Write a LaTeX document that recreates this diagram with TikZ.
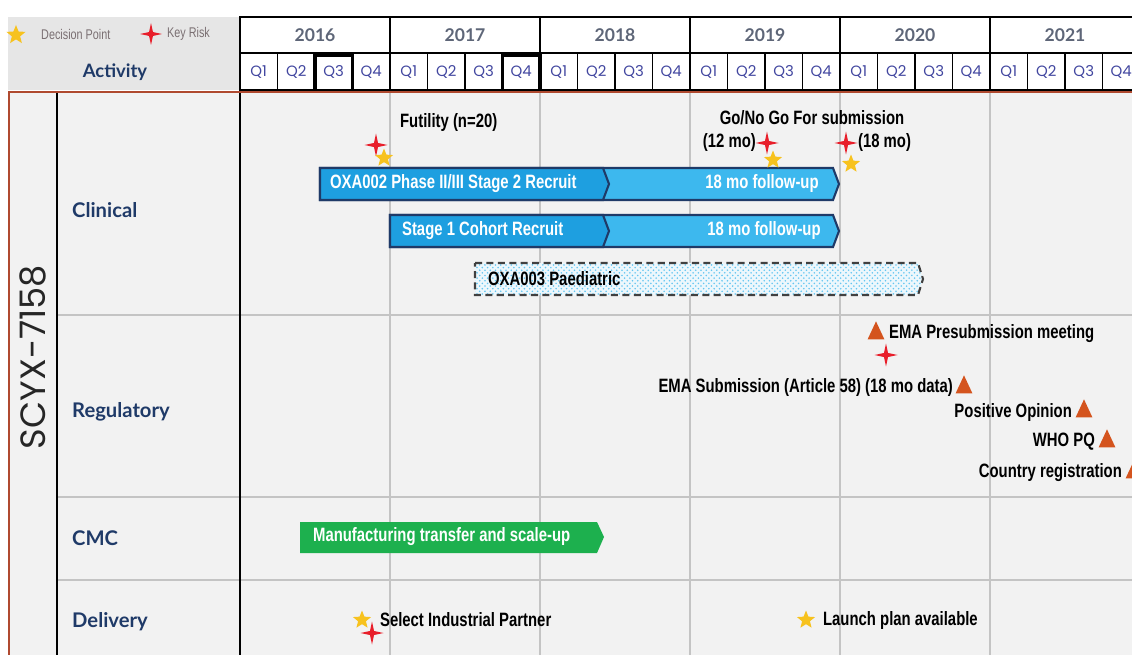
\documentclass[tikz,border=0pt]{standalone}
\usepackage{fontspec}
\setmainfont[FakeStretch=0.77]{Liberation Sans}
\newfontfamily\titre{Poppins}
\newfontfamily\rubrique{Lato}
\usetikzlibrary{shapes.geometric,patterns}
\definecolor{marine}{HTML}{1F3A68}
\definecolor{bleu}{HTML}{1E9FE0}
\definecolor{bleuclair}{HTML}{3DB8EE}
\definecolor{vert}{HTML}{1DB04E}
\definecolor{or}{HTML}{F7C21E}
\definecolor{rouge}{HTML}{E81E2A}
\definecolor{brique}{HTML}{D4541E}
\definecolor{fond}{HTML}{F2F2F2}
\definecolor{entete}{HTML}{E6E6E6}
\definecolor{grille}{HTML}{C4C4C4}
\definecolor{bordeaux}{HTML}{B04A30}
\definecolor{ardoise}{HTML}{5E6678}
\definecolor{legende}{HTML}{7A6F72}

\begin{document}
\begin{tikzpicture}[x=0.02cm,y=-0.02cm]
\tikzset{etoile/.style={star, star points=5, star point ratio=2.3, fill=or, inner sep=0, minimum size=0.38cm},
  croix/.style={star, star points=4, star point ratio=4, fill=rouge, inner sep=0, minimum size=0.46cm},
  tri/.style={isosceles triangle, isosceles triangle apex angle=50, shape border rotate=90, fill=brique, inner sep=0, minimum height=0.36cm},
  txt/.style={font=\fontsize{11}{13}\selectfont\bfseries, inner sep=1pt},
  blanc/.style={txt, text=white},
  etiq/.style={font=\rubrique\fontsize{11.5}{13}\selectfont\bfseries, text=marine, anchor=west},
  annee/.style={font=\rubrique\fontsize{10}{12}\selectfont\bfseries, text=ardoise},
  trim/.style={font=\titre\fontsize{8.5}{10}\selectfont, text=ardoise!70!blue}}
\useasboundingbox (0,0) rectangle (1132,655);
\clip (0,0) rectangle (1132,655);
\fill[white] (0,0) rectangle (1132,655);
\fill[entete] (8,17) rectangle (240,90);
\fill[fond] (9,92) rectangle (1132,655);
% legend
\node[etoile, minimum size=0.4cm] (lg1) at (16,35) {};
\node[font=\fontsize{8}{9}\selectfont, text=legende, anchor=west] (lg1t) at (35,34) {Decision Point};
\node[croix, minimum size=0.44cm] (lg2) at (151,34) {};
\node[font=\fontsize{8}{9}\selectfont, text=legende, anchor=west] (lg2t) at (161,34) {Key Risk};
\node[font=\rubrique\fontsize{10.5}{12}\selectfont\bfseries, text=marine] (act) at (115,72) {Activity};
% years and quarters
\foreach \a [count=\i from 0] in {2016,...,2021} {
  \draw[fill=white, line width=1.1pt] (240+150*\i,17) rectangle ++(150,36);
  \node[annee] (a\a) at (315+150*\i,35) {\a};
}
\foreach \q in {0,...,23} {
  \pgfmathtruncatemacro\n{mod(\q,4)+1}
  \draw[fill=white, line width=1.1pt] (240+37.5*\q,53) rectangle ++(37.5,37);
  \node[trim] (q\q) at (258.75+37.5*\q,72) {Q\n};
}
\draw[line width=1.8pt] (315,55) rectangle (352.5,91);
\draw[line width=1.8pt] (502.5,55) rectangle (540,91);
% grid
\draw[grille, line width=0.6pt] foreach \x in {390,540,...,990} {(\x,92) -- (\x,655)};
\draw[grille, line width=1.2pt] (57,315) -- (1132,315) (57,497) -- (1132,497) (57,580) -- (1132,580);
\draw[line width=0.9pt] (57,92) -- (57,655) (240,17) -- (240,655);
\draw[bordeaux, line width=1.6pt] (9,655) -- (9,92) -- (1132,92);
% rows
\node[font=\titre\fontsize{20}{24}\selectfont, rotate=90, text=black!85] (prod) at (33,357) {SCYX-7158};
\node[etiq] (clin) at (66,210) {Clinical};
\node[etiq] (regl) at (66,412) {Regulatory};
\node[etiq] (cmc) at (66,538) {CMC};
\node[etiq] (deli) at (66,622) {Delivery};
% clinical
\draw[fill=bleuclair, draw=marine, line width=1.2pt] (320,168) -- (833,168) -- (839,184) -- (833,200) -- (320,200) -- cycle;
\draw[fill=bleu, draw=marine, line width=1.2pt] (320,168) -- (603,168) -- (609,184) -- (603,200) -- (320,200) -- cycle;
\node[blanc, anchor=west] (ph2) at (328,184) {OXA002 Phase II/III  Stage 2 Recruit};
\node[blanc] (fu2) at (762,184) {18 mo follow-up};
\draw[fill=bleuclair, draw=marine, line width=1.2pt] (390,215) -- (833,215) -- (839,231) -- (833,247) -- (390,247) -- cycle;
\draw[fill=bleu, draw=marine, line width=1.2pt] (390,215) -- (603,215) -- (609,231) -- (603,247) -- (390,247) -- cycle;
\node[blanc, anchor=west] (st1) at (400,231) {Stage 1 Cohort Recruit};
\node[blanc] (fu1) at (764,231) {18 mo follow-up};
\fill[bleu!8] (475,263) -- (918,263) -- (923,279) -- (918,295) -- (475,295) -- cycle;
\fill[pattern=crosshatch dots, pattern color=bleuclair!80] (475,263) -- (918,263) -- (923,279) -- (918,295) -- (475,295) -- cycle;
\draw[black!75, line width=1.2pt, dash pattern=on 4pt off 2.5pt] (475,263) -- (918,263) -- (923,279) -- (918,295) -- (475,295) -- cycle;
\node[txt, anchor=west] (ped) at (486,279) {OXA003 Paediatric};
\node[croix] (r1) at (376,145) {};
\node[etoile] (d1) at (384,158) {};
\node[txt, anchor=west] (fut) at (398,123) {Futility (n=20)};
\node[txt] (gng) at (812,118) {Go/No Go For submission};
\node[croix] (r2) at (767,143) {};
\node[etoile] (d2) at (773,160) {};
\node[txt, anchor=east] (m12) at (758,143) {(12 mo)};
\node[croix] (r3) at (846,143) {};
\node[etoile] (d3) at (851,164) {};
\node[txt, anchor=west] (m18) at (856,143) {(18 mo)};
% regulatory
\node[tri] (t1) at (876,334) {};
\node[croix] (r4) at (886,355) {};
\node[txt, anchor=west] (pre) at (887,334) {EMA Presubmission meeting};
\node[tri] (t2) at (964,388) {};
\node[txt, anchor=east] (sub) at (955,388) {EMA Submission (Article 58) (18 mo data)};
\node[tri] (t3) at (1084,412) {};
\node[txt, anchor=east] (pos) at (1074,412) {Positive Opinion};
\node[tri] (t4) at (1107,442) {};
\node[txt, anchor=east] (who) at (1097,442) {WHO PQ};
\node[tri] (t5) at (1134,473) {};
\node[txt, anchor=east] (reg) at (1124,473) {Country registration};
% cmc
\fill[vert] (300,522) -- (597,522) -- (604,537) -- (597,553) -- (300,553) -- cycle;
\node[blanc, anchor=west] (man) at (311,537) {Manufacturing transfer and scale-up};
% delivery
\node[etoile] (d4) at (362,620) {};
\node[croix] (r5) at (372,633) {};
\node[txt, anchor=west] (sel) at (378,620) {Select Industrial Partner};
\node[etoile] (d5) at (806,620) {};
\node[txt, anchor=west] (lau) at (821,620) {Launch plan available};
\end{tikzpicture}
\end{document}
